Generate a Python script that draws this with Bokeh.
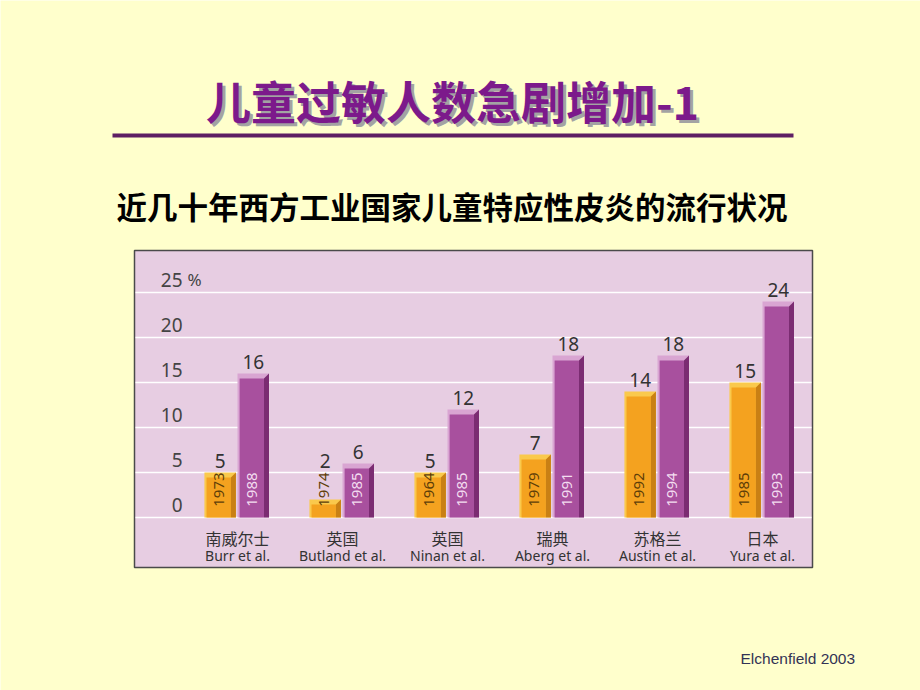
import numpy as np
from bokeh.plotting import figure
from bokeh.models import Range1d
from bokeh.core.properties import value
from bokeh.embed import file_html
from bokeh.resources import INLINE

# ---------------- data ----------------
regions_cn = ["南威尔士", "英国", "英国", "瑞典", "苏格兰", "日本"]
authors = ["Burr et al.", "Butland et al.", "Ninan et al.", "Aberg et al.", "Austin et al.", "Yura et al."]
early_years = ["1973", "1974", "1964", "1979", "1992", "1985"]
late_years = ["1988", "1985", "1985", "1991", "1994", "1993"]
early_values = [5, 2, 5, 7, 14, 15]
late_values = [16, 6, 12, 18, 18, 24]
y_ticks = [0, 5, 10, 15, 20, 25]

title_text = "儿童过敏人数急剧增加-1"
subtitle_text = "近几十年西方工业国家儿童特应性皮炎的流行状况"
source_text = "Elchenfield  2003"

PAGE_BG = "#FFFFCC"
PANEL_BG = "#E7CDE2"
W, H = 920, 690

# ---------------- layout helpers: page pixels -> data units ----------------
PX = 105.0        # pixels per group
PY = 9.0          # pixels per percent
X0_PIX = 237.0    # page x of first group centre
Y0_PIX = 517.0    # page y of 0 %

def xd(px):
    return (px - X0_PIX) / PX

def yd(py):
    return (Y0_PIX - py) / PY

p = figure(width=W, height=H,
           x_range=Range1d(xd(0), xd(W)), y_range=Range1d(yd(H), yd(0)),
           output_backend="svg", toolbar_location=None,
           x_axis_location=None, y_axis_location=None, min_border=0)
p.grid.visible = False
p.outline_line_color = None
p.background_fill_color = PAGE_BG
p.border_fill_color = PAGE_BG

# ---------------- header ----------------
p.text(x=[xd(455)], y=[yd(102.5)], text=[title_text], text_align="center", text_baseline="middle",
       text_font=value("Noto Sans CJK SC"), text_font_style="bold",
       text_font_size="45px", text_color="#a3a3a3")
p.text(x=[xd(452)], y=[yd(100)], text=[title_text], text_align="center", text_baseline="middle",
       text_font=value("Noto Sans CJK SC"), text_font_style="bold",
       text_font_size="45px", text_color="#7C1A8B")
p.segment(x0=[xd(112)], y0=[yd(135)], x1=[xd(793)], y1=[yd(135)],
          line_color="#5E1F63", line_width=4)
p.text(x=[xd(116)], y=[yd(205)], text=[subtitle_text], text_align="left", text_baseline="middle",
       text_font=value("Noto Sans CJK SC"), text_font_style="bold",
       text_font_size="30.5px", text_color="#000000")

# ---------------- chart panel ----------------
PL, PR, PT, PB = 134, 812, 250, 567
p.quad(left=[xd(PL)], right=[xd(PR)], top=[yd(PT)], bottom=[yd(PB)],
       fill_color=PANEL_BG, line_color="#4a4a4a", line_width=1.5)

p.segment(x0=[xd(PL + 1)] * len(y_ticks), x1=[xd(PR - 1)] * len(y_ticks),
          y0=y_ticks, y1=y_ticks, line_color="white", line_width=1.6)

xs = np.arange(len(regions_cn), dtype=float)
BW = 0.30          # bar width (group units)
BEV = 0.02         # left bevel
SIDE = 0.048       # right side depth
TOPD = 0.55        # top face depth (percent units)

def bars(center, vals, light, main, dark, years, year_color):
    vals = np.asarray(vals, dtype=float)
    x0 = center - BW / 2
    x1 = center + BW / 2
    p.quad(left=x0, right=x1, bottom=0, top=vals, fill_color=light, line_color=None)
    p.quad(left=x0 + BEV, right=x1 - SIDE, bottom=0, top=vals - TOPD,
           fill_color=main, line_color=None)
    p.patches(xs=[[a - SIDE, a - SIDE, a, a] for a in x1],
              ys=[[0, v - TOPD, v, 0] for v in vals],
              fill_color=dark, line_color=None)
    p.text(x=(x0 + BEV + x1 - SIDE) / 2, y=[3.1] * len(vals), text=years, angle=np.pi / 2,
           text_align="center", text_baseline="middle", text_font=value("Noto Sans"),
           text_font_size="15px", text_color=year_color)
    p.text(x=center, y=np.maximum(vals, 5) + 1.3, text=[str(int(v)) for v in vals],
           text_align="center", text_baseline="middle", text_font=value("Noto Sans"),
           text_font_size="19px", text_color="#333333")

bars(xs - 0.165, early_values, "#FAC94C", "#F4A21F", "#C98014", early_years, "#5E3E08")
bars(xs + 0.15, late_values, "#D9A5D2", "#A8509E", "#7B2C72", late_years, "#F3DDF0")

# y tick labels (inside the panel)
p.text(x=[xd(182)] * len(y_ticks), y=np.array(y_ticks) + 1.4, text=[str(t) for t in y_ticks],
       text_align="right", text_baseline="middle", text_font=value("Noto Sans"),
       text_font_size="19px", text_color="#444444")
p.text(x=[xd(187)], y=[y_ticks[-1] + 1.4], text=["%"],
       text_align="left", text_baseline="middle", text_font=value("Noto Sans"),
       text_font_size="17px", text_color="#444444")

# category labels
p.text(x=xs, y=[yd(537)] * len(xs), text=regions_cn, text_align="center", text_baseline="middle",
       text_font=value("Noto Sans CJK SC"), text_font_size="16px", text_color="#333333")
p.text(x=xs, y=[yd(555)] * len(xs), text=authors, text_align="center", text_baseline="middle",
       text_font=value("Noto Sans"), text_font_size="14px", text_color="#333333")

# ---------------- footer ----------------
p.text(x=[xd(740)], y=[yd(658)], text=[source_text], text_align="left", text_baseline="middle",
       text_font=value("Liberation Sans"), text_font_size="15.5px", text_color="#333355")

open("out.html", "w").write(file_html(p, INLINE))
